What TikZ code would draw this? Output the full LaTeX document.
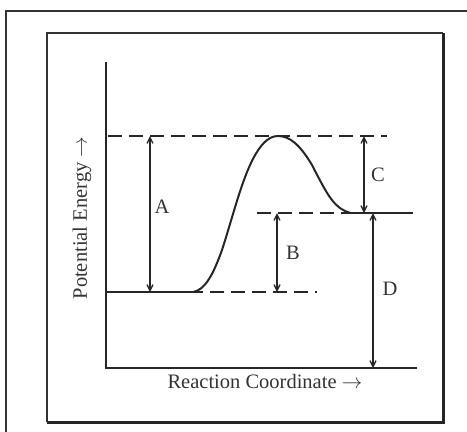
\documentclass[tikz,border=0pt]{standalone}
\usepackage{fontspec}
\setmainfont{Liberation Serif}
\usetikzlibrary{arrows.meta}
\begin{document}
\begin{tikzpicture}[x=1pt,y=-1pt,
  lbl/.style={font=\fontsize{20.5}{22}\selectfont, text=black!80, inner sep=0pt},
  dsh/.style={line width=1.5pt, dash pattern=on 14pt off 7pt, black!85},
  solidl/.style={line width=1.5pt, black!85},
  dim/.style={line width=1.3pt, black!85, {Straight Barb[length=6pt,width=6pt]}-{Straight Barb[length=6pt,width=6pt]}}]
\useasboundingbox (0,0) rectangle (467,432);
% outer frame
\draw[line width=1.5pt, black!80] (6,432) -- (6,11) -- (467,11);
% inner frame
\draw[line width=1.3pt, black!80] (47,422) -- (47,33) -- (443,33);
\draw[line width=3pt, black!85] (443,33) -- (443,422) -- (47,422);
% axes
\coordinate (yt) at (106,62);
\coordinate (o) at (106,368);
\coordinate (xr) at (417,368);
\draw[solidl] (yt) -- (o) -- (xr);
% levels
\coordinate (tl) at (108,136);
\coordinate (tr) at (387,136);
\draw[dsh] (tl) -- (tr);
\coordinate (rl) at (106,292);
\coordinate (rs) at (193,292);
\coordinate (rr) at (317,292);
\draw[solidl] (rl) -- (rs);
\draw[dsh, dash phase=4pt] (rs) -- (rr);
\coordinate (pl) at (257,213);
\coordinate (ps) at (347,213);
\coordinate (pr) at (413,213);
\draw[dsh] (pl) -- (ps);
\draw[solidl] (ps) -- (pr);
% curve
\draw[line width=2pt, black!85] (rs) .. controls (205,290) and (213,275) .. (222,250)
  .. controls (235,210) and (245,165) .. (262,145)
  .. controls (268,138) and (273,136) .. (278,136)
  .. controls (290,136) and (300,145) .. (312,165)
  .. controls (325,190) and (332,205) .. (345,211)
  .. controls (350,213) and (352,213) .. (ps);
% dimension arrows
\coordinate (At) at (150,136); \coordinate (Ab) at (150,292);
\draw[dim] (At) -- (Ab);
\node[lbl] (A) at (162,207) {A};
\coordinate (Bt) at (277,213); \coordinate (Bb) at (277,292);
\draw[dim] (Bt) -- (Bb);
\node[lbl] (B) at (293,253) {B};
\coordinate (Ct) at (364,136); \coordinate (Cb) at (364,213);
\draw[dim] (Ct) -- (Cb);
\node[lbl] (C) at (378,175) {C};
\coordinate (Dt) at (373,213); \coordinate (Db) at (373,368);
\draw[dim] (Dt) -- (Db);
\node[lbl] (D) at (390,289) {D};
% axis labels
\node[lbl] (xl) at (265,381) {Reaction Coordinate \(\rightarrow\)};
\node[lbl, rotate=90] (yl) at (82,218) {Potential Energy \(\rightarrow\)};
\end{tikzpicture}
\end{document}
